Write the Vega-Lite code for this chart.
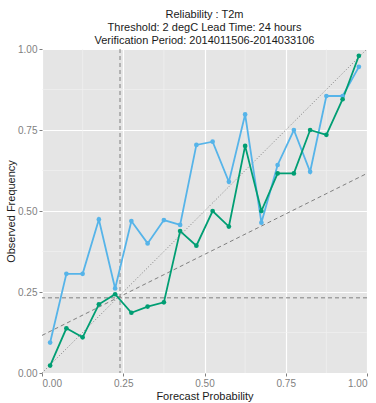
{
  "$schema": "https://vega.github.io/schema/vega-lite/v6.json",
  "autosize": {"type": "none"},
  "width": 325,
  "height": 324,
  "padding": {"left": 42, "top": 49, "right": 9, "bottom": 30},
  "background": "white",
  "title": {
    "text": ["Reliability : T2m", "Threshold: 2 degC Lead Time: 24 hours", "Verification Period: 2014011506-2014033106"],
    "anchor": "middle",
    "fontSize": 11,
    "fontWeight": "normal",
    "font": "Liberation Sans",
    "color": "#1a1a1a",
    "lineHeight": 13,
    "offset": -2
  },
  "config": {
    "view": {"fill": "#E5E5E5", "stroke": null},
    "axis": {
      "grid": true,
      "gridColor": "white",
      "gridWidth": 1.2,
      "domain": false,
      "tickColor": "#7F7F7F",
      "tickSize": 3,
      "labelColor": "#7F7F7F",
      "labelFont": "Liberation Sans",
      "labelFontSize": 10,
      "titleFont": "Liberation Sans",
      "titleFontSize": 11,
      "titleFontWeight": "normal",
      "titleColor": "#1a1a1a"
    }
  },
  "datasets": {
    "rel": [
      {"p": 0.025, "obs": 0.094, "series": "A"},
      {"p": 0.075, "obs": 0.306, "series": "A"},
      {"p": 0.125, "obs": 0.306, "series": "A"},
      {"p": 0.175, "obs": 0.474, "series": "A"},
      {"p": 0.225, "obs": 0.261, "series": "A"},
      {"p": 0.275, "obs": 0.469, "series": "A"},
      {"p": 0.325, "obs": 0.400, "series": "A"},
      {"p": 0.375, "obs": 0.472, "series": "A"},
      {"p": 0.425, "obs": 0.457, "series": "A"},
      {"p": 0.475, "obs": 0.704, "series": "A"},
      {"p": 0.525, "obs": 0.714, "series": "A"},
      {"p": 0.575, "obs": 0.590, "series": "A"},
      {"p": 0.625, "obs": 0.798, "series": "A"},
      {"p": 0.675, "obs": 0.464, "series": "A"},
      {"p": 0.725, "obs": 0.642, "series": "A"},
      {"p": 0.775, "obs": 0.750, "series": "A"},
      {"p": 0.825, "obs": 0.621, "series": "A"},
      {"p": 0.875, "obs": 0.855, "series": "A"},
      {"p": 0.925, "obs": 0.855, "series": "A"},
      {"p": 0.975, "obs": 0.945, "series": "A"},
      {"p": 0.025, "obs": 0.023, "series": "B"},
      {"p": 0.075, "obs": 0.138, "series": "B"},
      {"p": 0.125, "obs": 0.110, "series": "B"},
      {"p": 0.175, "obs": 0.212, "series": "B"},
      {"p": 0.225, "obs": 0.243, "series": "B"},
      {"p": 0.275, "obs": 0.186, "series": "B"},
      {"p": 0.325, "obs": 0.205, "series": "B"},
      {"p": 0.375, "obs": 0.218, "series": "B"},
      {"p": 0.425, "obs": 0.438, "series": "B"},
      {"p": 0.475, "obs": 0.393, "series": "B"},
      {"p": 0.525, "obs": 0.500, "series": "B"},
      {"p": 0.575, "obs": 0.452, "series": "B"},
      {"p": 0.625, "obs": 0.701, "series": "B"},
      {"p": 0.675, "obs": 0.500, "series": "B"},
      {"p": 0.725, "obs": 0.616, "series": "B"},
      {"p": 0.775, "obs": 0.616, "series": "B"},
      {"p": 0.825, "obs": 0.750, "series": "B"},
      {"p": 0.875, "obs": 0.735, "series": "B"},
      {"p": 0.925, "obs": 0.845, "series": "B"},
      {"p": 0.975, "obs": 0.979, "series": "B"}
    ],
    "minor": [{"v": 0.125}, {"v": 0.375}, {"v": 0.625}, {"v": 0.875}],
    "diag": [{"x": 0, "y": 0}, {"x": 1, "y": 1}],
    "noskill": [{"x": 0, "y": 0.116}, {"x": 1, "y": 0.616}],
    "clim": [{"x": 0.24, "y": 0.232}]
  },
  "layer": [
    {
      "data": {"name": "minor"},
      "mark": {"type": "rule", "color": "#F2F2F2", "strokeWidth": 0.6},
      "encoding": {
        "x": {"field": "v", "type": "quantitative", "scale": {"domain": [0, 1], "nice": false},
              "axis": {"values": [0, 0.25, 0.5, 0.75, 1], "format": ".2f", "title": "Forecast Probability", "titlePadding": 2}}
      }
    },
    {
      "data": {"name": "minor"},
      "mark": {"type": "rule", "color": "#F2F2F2", "strokeWidth": 0.6},
      "encoding": {
        "y": {"field": "v", "type": "quantitative", "scale": {"domain": [0, 1], "nice": false},
              "axis": {"values": [0, 0.25, 0.5, 0.75, 1], "format": ".2f", "title": "Observed Frequency", "titlePadding": 1}}
      }
    },
    {
      "data": {"name": "diag"},
      "mark": {"type": "line", "color": "#7F7F7F", "strokeDash": [1, 2], "strokeWidth": 1},
      "encoding": {"x": {"field": "x", "type": "quantitative"}, "y": {"field": "y", "type": "quantitative"}}
    },
    {
      "data": {"name": "noskill"},
      "mark": {"type": "line", "color": "#7F7F7F", "strokeDash": [4, 3], "strokeWidth": 1},
      "encoding": {"x": {"field": "x", "type": "quantitative"}, "y": {"field": "y", "type": "quantitative"}}
    },
    {
      "data": {"name": "clim"},
      "mark": {"type": "rule", "color": "#7F7F7F", "strokeDash": [4, 3], "strokeWidth": 1},
      "encoding": {"x": {"field": "x", "type": "quantitative"}}
    },
    {
      "data": {"name": "clim"},
      "mark": {"type": "rule", "color": "#7F7F7F", "strokeDash": [4, 3], "strokeWidth": 1},
      "encoding": {"y": {"field": "y", "type": "quantitative"}}
    },
    {
      "data": {"name": "rel"},
      "mark": {"type": "line", "strokeWidth": 1.8},
      "encoding": {
        "x": {"field": "p", "type": "quantitative"},
        "y": {"field": "obs", "type": "quantitative"},
        "color": {"field": "series", "type": "nominal", "scale": {"domain": ["A", "B"], "range": ["#56B4E9", "#009E73"]}, "legend": null},
        "order": {"field": "p"}
      }
    },
    {
      "data": {"name": "rel"},
      "mark": {"type": "circle", "size": 22, "opacity": 1},
      "encoding": {
        "x": {"field": "p", "type": "quantitative"},
        "y": {"field": "obs", "type": "quantitative"},
        "color": {"field": "series", "type": "nominal", "scale": {"domain": ["A", "B"], "range": ["#56B4E9", "#009E73"]}, "legend": null}
      }
    }
  ]
}
